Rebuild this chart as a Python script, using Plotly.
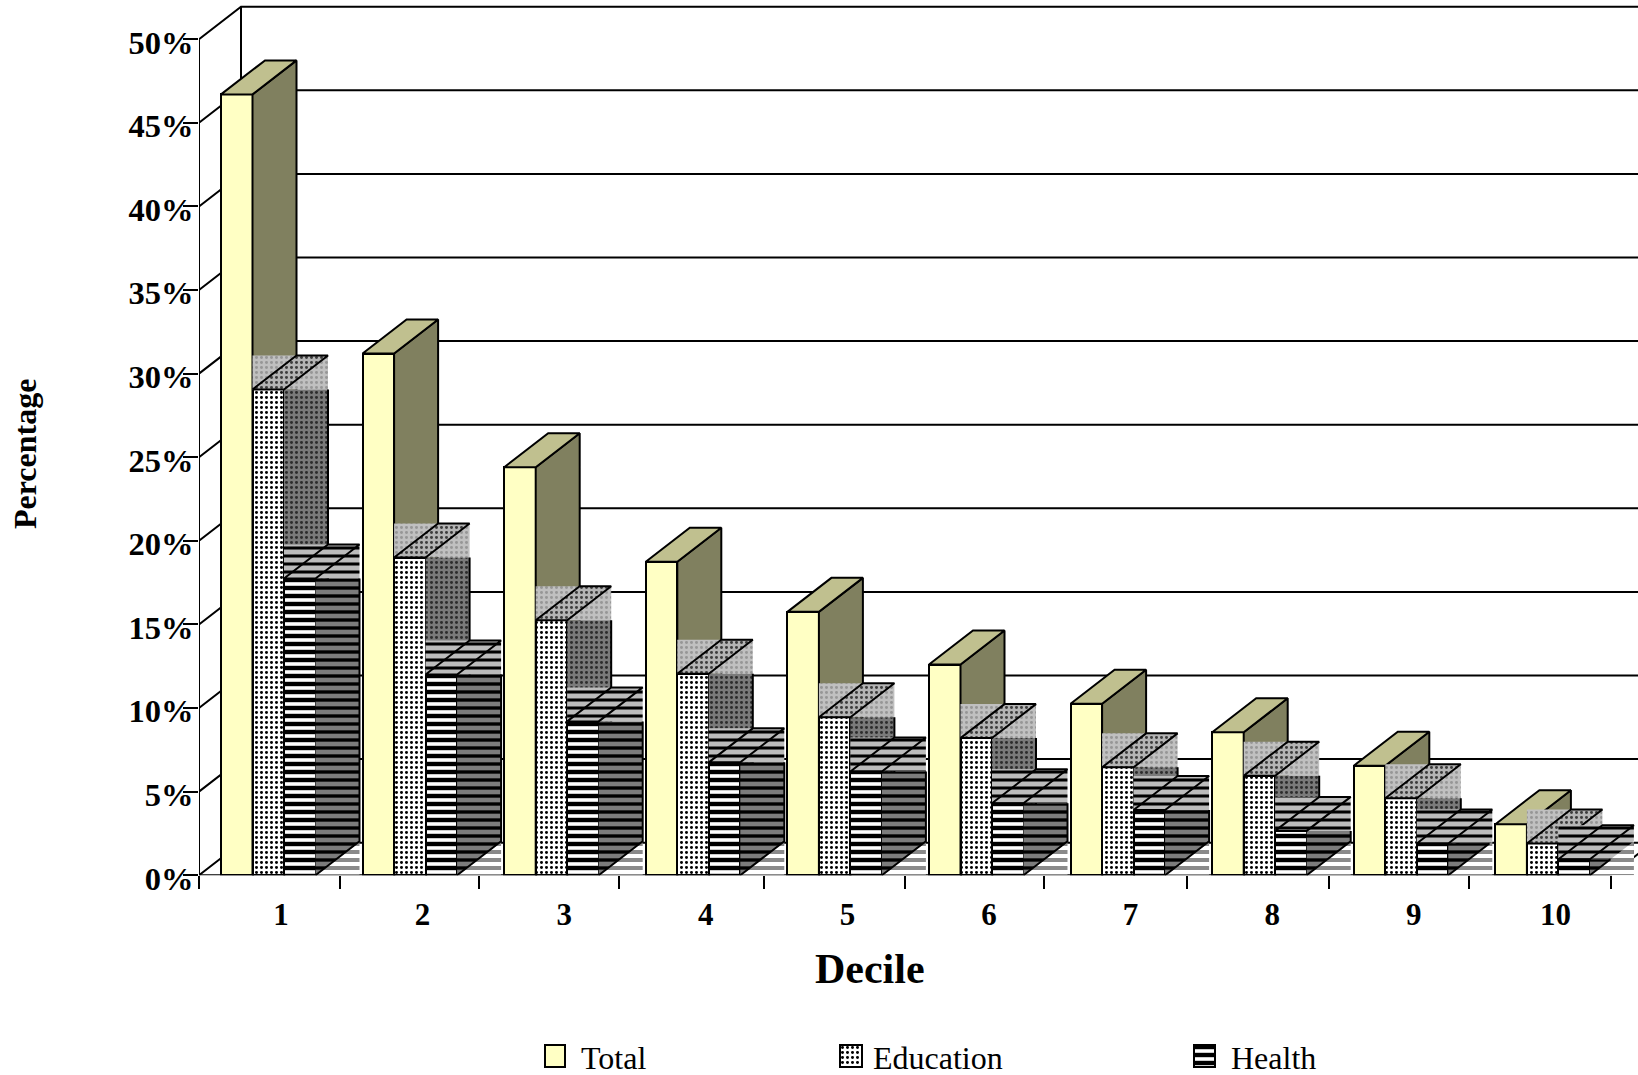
import plotly.graph_objects as go

# Budget incidence by income decile (percent of total)
deciles = [1, 2, 3, 4, 5, 6, 7, 8, 9, 10]
total = [46.7, 31.2, 24.4, 18.75, 15.75, 12.6, 10.25, 8.55, 6.55, 3.05]
education = [29.05, 19.0, 15.25, 12.05, 9.45, 8.2, 6.45, 5.95, 4.6, 1.9]
health = [17.75, 12.0, 9.2, 6.75, 6.2, 4.3, 3.9, 2.65, 1.9, 0.95]
y_ticks = [0, 5, 10, 15, 20, 25, 30, 35, 40, 45, 50]
x_tick_edges = [0.42, 1.42, 2.40, 3.39, 4.41, 5.41, 6.39, 7.40, 8.40, 9.39, 10.39]

W, H = 1638, 1075
PLOT_LEFT, PLOT_BOTTOM = 199, 875.2
PX_PER_UNIT = 141.6
PX_PER_PCT = 16.72
FONT = "Liberation Serif"

# Extruded look: bars and back wall are offset up and to the right
BAR_W = 31.5 / PX_PER_UNIT
BAR_DX = 44 / PX_PER_UNIT
BAR_DY = 34 / PX_PER_PCT
WALL_DX = 42 / PX_PER_UNIT
WALL_DY = 32.5 / PX_PER_PCT
X_MIN = 1 - (281 - PLOT_LEFT) / PX_PER_UNIT
X_MAX = 1 + (W - 281) / PX_PER_UNIT
Y_MAX = PLOT_BOTTOM / PX_PER_PCT
OFFSETS = {"total": -44.25 / PX_PER_UNIT, "education": -12.75 / PX_PER_UNIT, "health": 18.75 / PX_PER_UNIT}

DOTS = dict(shape=".", size=5, solidity=0.28, fgopacity=1)
BANDS = dict(shape="-", size=8, fgopacity=1)
EDU_FRONT = dict(DOTS, fgcolor="#000000", bgcolor="#ffffff")
EDU_SIDE = dict(DOTS, fgcolor="#2c2c2c", bgcolor="#7a7a7a")
EDU_TOP = dict(DOTS, fgcolor="#3c3c3c", bgcolor="#b4b4b4")
EDU_HALO = dict(DOTS, fgcolor="#969696", bgcolor="#c0c0c0")
HEALTH_FRONT = dict(BANDS, fgcolor="#000000", bgcolor="#ffffff", solidity=0.55)
HEALTH_SIDE = dict(BANDS, fgcolor="#000000", bgcolor="#7c7c7c", solidity=0.42)
HEALTH_TOP = dict(BANDS, fgcolor="#000000", bgcolor="#bcbcbc", solidity=0.38)
HEALTH_FOOT = dict(BANDS, fgcolor="#8a8a8a", bgcolor="#ffffff", solidity=0.5)


def polygons(rows):
    xs, ys = [], []
    for pts in rows:
        xs += [p[0] for p in pts] + [pts[0][0], None]
        ys += [p[1] for p in pts] + [pts[0][1], None]
    return xs, ys


def full_side_pts(c, v):
    r = c + BAR_W / 2
    return [(r, 0), (r + BAR_DX, BAR_DY), (r + BAR_DX, v + BAR_DY), (r, v)]


def lower_side_pts(c, v):
    # Part of the side face below the front top edge; short bars only show a wedge
    r = c + BAR_W / 2
    if v < BAR_DY:
        return [(r, 0), (r + BAR_DX * v / BAR_DY, v), (r, v)]
    return [(r, 0), (r + BAR_DX, BAR_DY), (r + BAR_DX, v), (r, v)]


def side_edges(c, v):
    r = c + BAR_W / 2
    if v < BAR_DY:
        return [(r, 0), (r + BAR_DX * v / BAR_DY, v)]
    return [(r, 0), (r + BAR_DX, BAR_DY), (r + BAR_DX, v)]


def top_pts(c, v):
    l, r = c - BAR_W / 2, c + BAR_W / 2
    return [(l, v), (r, v), (r + BAR_DX, v + BAR_DY), (l + BAR_DX, v + BAR_DY)]


def halo_pts(c, v):
    l, r = c - BAR_W / 2, c + BAR_W / 2
    return [(l, v), (r + BAR_DX, v), (r + BAR_DX, v + BAR_DY), (l, v + BAR_DY)]


def foot_pts(c, v):
    r = c + BAR_W / 2
    return [(r, 0), (r + BAR_DX, 0), (r + BAR_DX, BAR_DY)]


def poly_trace(rows, axis, fill=None, pattern=None, outline=True):
    xs, ys = polygons(rows)
    return go.Scatter(
        x=xs, y=ys, xaxis=f"x{axis}", yaxis=f"y{axis}", mode="lines", fill="toself",
        fillcolor=fill if fill else "rgba(0,0,0,0)", fillpattern=pattern,
        line=dict(color="#000000", width=2 if outline else 0),
        showlegend=False, hoverinfo="skip",
    )


def edge_trace(paths, axis):
    xs, ys = [], []
    for pts in paths:
        xs += [p[0] for p in pts] + [None]
        ys += [p[1] for p in pts] + [None]
    return go.Scatter(x=xs, y=ys, xaxis=f"x{axis}", yaxis=f"y{axis}", mode="lines",
                      line=dict(color="#000000", width=2), showlegend=False, hoverinfo="skip")


def front_marker(front):
    marker = dict(line=dict(color="#000000", width=2))
    if isinstance(front, str):
        marker["color"] = front
    else:
        marker["pattern"] = front
        marker["color"] = front["bgcolor"]
    return marker


def add_solid_series(fig, name, values, key, axis, front, side, top):
    centres = [d + OFFSETS[key] for d in deciles]
    fig.add_trace(poly_trace([full_side_pts(c, v) for c, v in zip(centres, values)], axis, fill=side))
    fig.add_trace(poly_trace([top_pts(c, v) for c, v in zip(centres, values)], axis, fill=top))
    fig.add_trace(go.Bar(x=centres, y=values, width=BAR_W, name=name, marker=front_marker(front),
                         xaxis=f"x{axis}", yaxis=f"y{axis}", showlegend=False))


def add_hatched_series(fig, name, values, key, axis, front, side, top, halo, foot=None):
    centres = [d + OFFSETS[key] for d in deciles]
    fig.add_trace(poly_trace([halo_pts(c, v) for c, v in zip(centres, values)], axis,
                             pattern=halo, outline=False))
    if foot:
        fig.add_trace(poly_trace([foot_pts(c, v) for c, v in zip(centres, values)], axis,
                                 pattern=foot, outline=False))
    fig.add_trace(poly_trace([lower_side_pts(c, v) for c, v in zip(centres, values)], axis,
                             pattern=side, outline=False))
    fig.add_trace(edge_trace([side_edges(c, v) for c, v in zip(centres, values)], axis))
    fig.add_trace(poly_trace([top_pts(c, v) for c, v in zip(centres, values)], axis, pattern=top))
    fig.add_trace(go.Bar(x=centres, y=values, width=BAR_W, name=name, marker=front_marker(front),
                         xaxis=f"x{axis}", yaxis=f"y{axis}", showlegend=False))


fig = go.Figure()

# Back wall, floor and the short connectors from the front axis to the wall
wall_x, wall_y = [], []
for t in y_ticks:
    wall_x += [X_MIN, X_MIN + WALL_DX, X_MAX, None]
    wall_y += [t, t + WALL_DY, t + WALL_DY, None]
wall_x += [X_MIN + WALL_DX, X_MIN + WALL_DX, None, x_tick_edges[-1], x_tick_edges[-1] + WALL_DX]
wall_y += [WALL_DY, y_ticks[-1] + WALL_DY, None, 0, WALL_DY]
fig.add_trace(go.Scatter(x=wall_x, y=wall_y, mode="lines", line=dict(color="#000000", width=2),
                         showlegend=False, hoverinfo="skip"))
fig.add_trace(go.Scatter(x=[X_MIN, X_MIN, None, X_MIN, x_tick_edges[-1]],
                         y=[y_ticks[-1], 0, None, 0, 0], mode="lines", cliponaxis=False,
                         line=dict(color="#000000", width=2), showlegend=False, hoverinfo="skip"))

add_solid_series(fig, "Total", total, "total", 2, "#ffffc4", "#80805f", "#c0c08f")
add_hatched_series(fig, "Education", education, "education", 3, EDU_FRONT, EDU_SIDE, EDU_TOP, EDU_HALO)
add_hatched_series(fig, "Health", health, "health", 4, HEALTH_FRONT, HEALTH_SIDE, HEALTH_TOP,
                   HEALTH_TOP, foot=HEALTH_FOOT)

# Key row along the bottom of the page: swatches are bars on their own axes
KEY = [("Total", 554.5, 20, "#ffffc4", 579),
       ("Education", 851, 22, EDU_FRONT, 870.5),
       ("Health", 1204, 21, HEALTH_FRONT, 1229)]
for label, cx, wd, style, text_x in KEY:
    fig.add_trace(go.Bar(x=[cx], y=[22], base=[8], width=wd, marker=front_marker(style),
                         xaxis="x5", yaxis="y5", showlegend=False, hoverinfo="skip", name=label))

plot_domain_x = [PLOT_LEFT / W, 1]
plot_domain_y = [1 - PLOT_BOTTOM / H, 1]
hidden = dict(visible=False, fixedrange=True)
layout_axes = {}
for i in (2, 3, 4):
    layout_axes[f"xaxis{i}"] = dict(hidden, overlaying="x", range=[X_MIN, X_MAX], domain=plot_domain_x, anchor=f"y{i}")
    layout_axes[f"yaxis{i}"] = dict(hidden, overlaying="y", range=[0, Y_MAX], domain=plot_domain_y, anchor=f"x{i}")
layout_axes["xaxis5"] = dict(hidden, range=[0, W], domain=[0, 1], anchor="y5")
layout_axes["yaxis5"] = dict(hidden, range=[0, 40], domain=[0, 40 / H], anchor="x5")

annotations = [
    dict(text="Decile", x=870 / W, y=1 - 969 / H, xref="paper", yref="paper", showarrow=False,
         xanchor="center", yanchor="middle",
         font=dict(family=FONT, size=42, color="#000000", weight="bold")),
    dict(text="Percentage", x=25 / W, y=1 - 454 / H, xref="paper", yref="paper", showarrow=False, textangle=-90,
         xanchor="center", yanchor="middle",
         font=dict(family=FONT, size=32, color="#000000", weight="bold")),
]
for label, cx, wd, style, text_x in KEY:
    annotations.append(dict(text=label, x=text_x / W, y=1 - 1058 / H, xref="paper", yref="paper",
                            xanchor="left", yanchor="middle", showarrow=False,
                            font=dict(family=FONT, size=32, color="#000000")))

fig.update_layout(
    width=W, height=H, margin=dict(l=0, r=0, t=0, b=0, autoexpand=False),
    paper_bgcolor="#ffffff", plot_bgcolor="#ffffff",
    barmode="overlay", bargap=0, showlegend=False,
    xaxis=dict(
        range=[X_MIN, X_MAX], domain=plot_domain_x, anchor="y", showgrid=False, zeroline=False,
        tickmode="array", tickvals=deciles, ticktext=[str(d) for d in deciles], ticks="",
        ticklabelstandoff=18,
        tickfont=dict(family=FONT, size=31, color="#000000", weight="bold"),
        minor=dict(tickmode="array", tickvals=x_tick_edges, ticks="outside", ticklen=13,
                   tickwidth=2, tickcolor="#000000", showgrid=False),
    ),
    yaxis=dict(
        range=[0, Y_MAX], domain=plot_domain_y, anchor="x", showgrid=False, zeroline=False,
        tickmode="array", tickvals=y_ticks, ticktext=[f"{t}%" for t in y_ticks], ticks="outside", ticklen=15,
        tickwidth=2, tickcolor="#000000", ticklabelstandoff=-17, ticklabelshift=3,
        tickfont=dict(family=FONT, size=32.5, color="#000000", weight="bold"),
    ),
    annotations=annotations,
    **layout_axes,
)

fig.write_html("out.html")
